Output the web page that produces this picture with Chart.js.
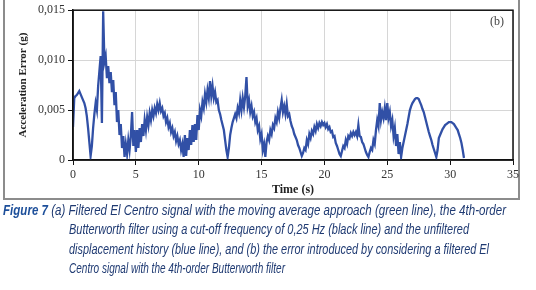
<!DOCTYPE html>
<html>
<head>
<meta charset="utf-8">
<script src="https://cdn.jsdelivr.net/npm/chart.js@4.4.1/dist/chart.umd.min.js"></script>
<style>
    body { margin: 0; background: #fff; }
    #wrap { position: relative; width: 536px; height: 290px; overflow: hidden; }
    #frame {
        position: absolute; left: 3px; top: -4px; width: 517px; height: 204px;
        box-sizing: border-box; border: 2px solid #8c8c8c;
    }
    #plot { position: absolute; left: 0; top: 0; width: 536px; height: 200px; }
    #caption { position: absolute; left: 0; top: 0; }
    #caption text {
        font-family: "Liberation Sans", Arial, sans-serif;
        font-style: italic; font-size: 14px; fill: #1f3a72;
    }
    #caption tspan.fig { font-weight: bold; fill: #1d4f9a; }
</style>
</head>
<body>
<div id="wrap">
    <div id="frame"></div>
    <canvas id="plot" width="536" height="200"></canvas>
    <svg id="caption" width="536" height="290">
        <text x="3" y="215" textLength="503" lengthAdjust="spacingAndGlyphs"><tspan class="fig">Figure 7</tspan> (a) Filtered El Centro signal with the moving average approach (green line), the 4th-order</text>
        <text x="69" y="234" textLength="400" lengthAdjust="spacingAndGlyphs">Butterworth filter using a cut-off frequency of 0,25 Hz (black line) and the unfiltered</text>
        <text x="69" y="254" textLength="420" lengthAdjust="spacingAndGlyphs">displacement history (blue line), and (b) the error introduced by considering a filtered El</text>
        <text x="69" y="273" textLength="216" lengthAdjust="spacingAndGlyphs">Centro signal with the 4th-order Butterworth filter</text>
    </svg>
</div>
<script>
// error samples (g), one every 0.1 s starting at t = 0
const timeStep = 0.1;
const errorG = [
    0.0033, 0.0062, 0.0064, 0.0065, 0.0067, 0.0069, 0.0066, 0.0063, 0.0060, 0.0057,
    0.0052, 0.0044, 0.0032, 0.0018, 0.0004, 0.0014, 0.0032, 0.0046, 0.0057, 0.0050,
    0.0074, 0.0089, 0.0104, 0.0037, 0.0149, 0.0098, 0.0104, 0.0082, 0.0094, 0.0077,
    0.0088, 0.0068, 0.0080, 0.0055, 0.0068, 0.0038, 0.0050, 0.0025, 0.0036, 0.0012,
    0.0024, 0.0003, 0.0016, 0.0006, 0.0020, 0.0010, 0.0024, 0.0048, 0.0014, 0.0030,
    0.0008, 0.0030, 0.0012, 0.0032, 0.0018, 0.0036, 0.0024, 0.0040, 0.0030, 0.0043,
    0.0035, 0.0047, 0.0040, 0.0050, 0.0044, 0.0052, 0.0047, 0.0056, 0.0050, 0.0057,
    0.0049, 0.0052, 0.0044, 0.0047, 0.0038, 0.0042, 0.0033, 0.0037, 0.0028, 0.0032,
    0.0024, 0.0028, 0.0019, 0.0024, 0.0016, 0.0020, 0.0010, 0.0016, 0.0003, 0.0025,
    0.0004, 0.0022, 0.0010, 0.0030, 0.0015, 0.0035, 0.0018, 0.0036, 0.0020, 0.0045,
    0.0030, 0.0050, 0.0044, 0.0058, 0.0052, 0.0066, 0.0058, 0.0070, 0.0062, 0.0079,
    0.0064, 0.0074, 0.0062, 0.0068, 0.0058, 0.0060, 0.0050, 0.0046, 0.0040, 0.0035,
    0.0030, 0.0020, 0.0010, 0.0003, 0.0012, 0.0025, 0.0032, 0.0038, 0.0042, 0.0046,
    0.0042, 0.0052, 0.0047, 0.0060, 0.0050, 0.0062, 0.0053, 0.0064, 0.0083, 0.0054,
    0.0060, 0.0048, 0.0054, 0.0044, 0.0048, 0.0038, 0.0042, 0.0030, 0.0034, 0.0021,
    0.0026, 0.0010, 0.0016, 0.0003, 0.0018, 0.0024, 0.0020, 0.0030, 0.0026, 0.0035,
    0.0032, 0.0042, 0.0038, 0.0048, 0.0042, 0.0052, 0.0060, 0.0048, 0.0054, 0.0046,
    0.0056, 0.0044, 0.0046, 0.0039, 0.0034, 0.0031, 0.0026, 0.0023, 0.0020, 0.0015,
    0.0012, 0.0008, 0.0004, 0.0007, 0.0012, 0.0010, 0.0020, 0.0016, 0.0026, 0.0022,
    0.0029, 0.0026, 0.0033, 0.0029, 0.0036, 0.0032, 0.0037, 0.0034, 0.0038, 0.0035,
    0.0037, 0.0033, 0.0036, 0.0031, 0.0033, 0.0028, 0.0029, 0.0023, 0.0024, 0.0017,
    0.0014, 0.0010, 0.0006, 0.0004, 0.0009, 0.0014, 0.0012, 0.0020, 0.0016, 0.0024,
    0.0022, 0.0027, 0.0024, 0.0028, 0.0025, 0.0028, 0.0024, 0.0035, 0.0024, 0.0023,
    0.0018, 0.0016, 0.0012, 0.0008, 0.0005, 0.0003, 0.0008, 0.0012, 0.0010, 0.0020,
    0.0016, 0.0030, 0.0040, 0.0034, 0.0057, 0.0040, 0.0048, 0.0042, 0.0052, 0.0040,
    0.0057, 0.0042, 0.0048, 0.0034, 0.0040, 0.0024, 0.0032, 0.0014, 0.0026, 0.0006,
    0.0018, 0.0003, 0.0012, 0.0018, 0.0024, 0.0030, 0.0036, 0.0043, 0.0050, 0.0054,
    0.0057, 0.0059, 0.0061, 0.0062, 0.0062, 0.0061, 0.0058, 0.0055, 0.0051, 0.0048,
    0.0043, 0.0038, 0.0033, 0.0028, 0.0024, 0.0020, 0.0015, 0.0011, 0.0007, 0.0003,
    0.0010, 0.0022, 0.0025, 0.0028, 0.0031, 0.0033, 0.0035, 0.0036, 0.0037, 0.0038,
    0.0038, 0.0038, 0.0037, 0.0036, 0.0034, 0.0032, 0.0030, 0.0026, 0.0022, 0.0017,
    0.0010, 0.0002
];
const xTicks = [0, 5, 10, 15, 20, 25, 30, 35];
const yTicks = [0, 0.005, 0.010, 0.015];
const panelLabel = "(b)";

const points = errorG.map((v, i) => ({x: +(i * timeStep).toFixed(1), y: v}));

const serif = "'Liberation Serif', 'DejaVu Serif', serif";

// closes the box on top/right and writes the panel label
const boxPlugin = {
    id: 'box',
    afterDraw(chart) {
        const ctx = chart.ctx;
        const a = chart.chartArea;
        ctx.save();
        ctx.strokeStyle = '#111';
        ctx.lineWidth = 1.5;
        ctx.strokeRect(a.left, a.top, a.right - a.left, a.bottom - a.top);
        ctx.fillStyle = '#444';
        ctx.font = '12px ' + serif;
        ctx.textAlign = 'center';
        ctx.textBaseline = 'middle';
        ctx.fillText(panelLabel, a.right - 16, a.top + 12);
        ctx.restore();
    }
};

new Chart(document.getElementById('plot').getContext('2d'), {
    type: 'line',
    data: {
        datasets: [{
            data: points,
            borderColor: '#3150a6',
            borderWidth: 2.3,
            pointRadius: 0,
            tension: 0,
            fill: false
        }]
    },
    options: {
        responsive: false,
        animation: false,
        events: [],
        layout: {padding: {left: 0, right: 23, top: 9, bottom: 0}},
        plugins: {legend: {display: false}, tooltip: {enabled: false}},
        scales: {
            x: {
                type: 'linear',
                min: 0,
                max: 35,
                afterBuildTicks: s => { s.ticks = xTicks.map(v => ({value: v})); },
                afterFit: s => { s.height = 40; },
                grid: {color: '#d6d6d6', lineWidth: 1, tickColor: '#111', tickLength: 5},
                border: {color: '#111', width: 1.5},
                ticks: {color: '#333', padding: 3, maxRotation: 0, font: {family: serif, size: 12}},
                title: {display: true, text: 'Time (s)', color: '#222', padding: {top: 0, bottom: 3},
                        font: {family: serif, size: 12, weight: 'bold'}}
            },
            y: {
                min: 0,
                max: 0.015,
                afterBuildTicks: s => { s.ticks = yTicks.map(v => ({value: v})); },
                afterFit: s => { s.width = 73; },
                grid: {color: '#d6d6d6', lineWidth: 1, tickColor: '#111', tickLength: 5},
                border: {color: '#111', width: 1.5},
                ticks: {
                    color: '#333', padding: 3, font: {family: serif, size: 12},
                    callback: v => v === 0 ? '0' : v.toFixed(3).replace('.', ',')
                },
                title: {display: true, text: 'Acceleration Error (g)', color: '#222', padding: {top: 17, bottom: 0},
                        font: {family: serif, size: 11, weight: 'bold'}}
            }
        }
    },
    plugins: [boxPlugin]
});
</script>
</body>
</html>
